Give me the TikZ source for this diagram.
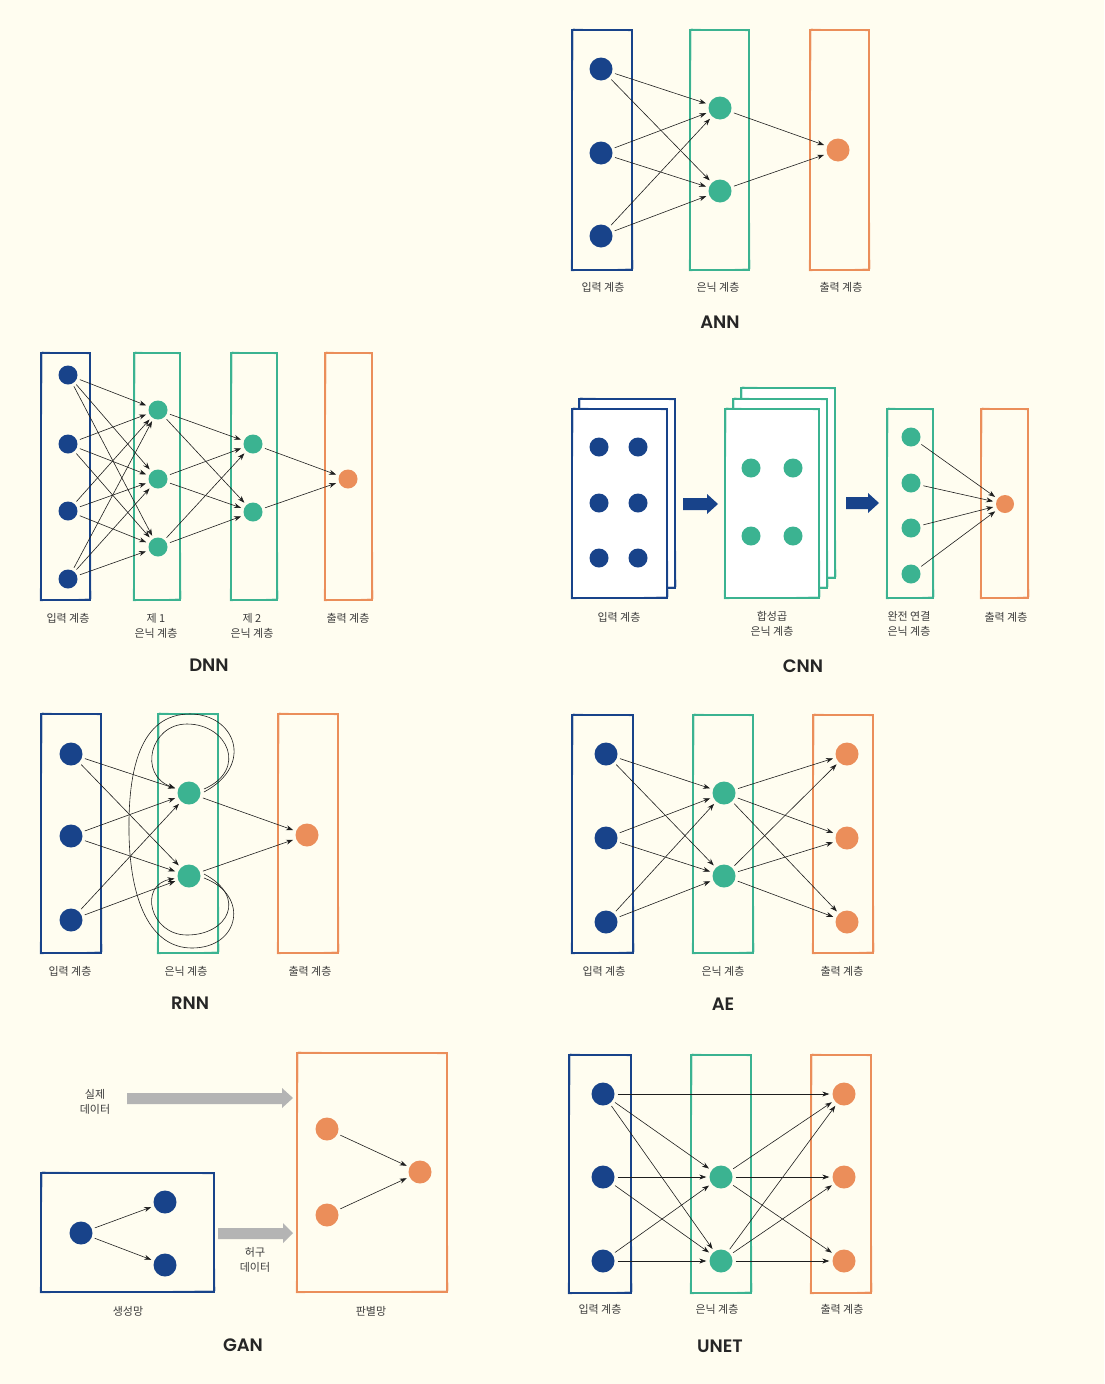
\documentclass[tikz,border=0pt]{standalone}
\usepackage{fontspec}
\newfontfamily\kr{Noto Sans CJK KR}
\newfontfamily\ttl{Poppins}[UprightFont={* SemiBold}]
\usetikzlibrary{arrows.meta}
\definecolor{bgc}{HTML}{FFFDF0}
\definecolor{cblue}{HTML}{18438A}
\definecolor{cgreen}{HTML}{3BB391}
\definecolor{corange}{HTML}{EB8E5A}
\definecolor{labc}{HTML}{3C3C3C}
\definecolor{arrc}{HTML}{1E1E1E}
\definecolor{cgray}{HTML}{B4B4B4}
\newcommand\skbox[6][bgc]{%
  \fill[#1] (#3,#4) rectangle (#5,#6);
  \draw[#2, line width=1.1pt] (#3,#4) rectangle (#5,#6);
  \draw[#2, line width=0.6pt, opacity=0.75] (#3+1.2,#4-1) -- (#5-0.6,#4+0.8) -- (#5+1,#6-1.2) -- (#3-0.8,#6+0.8) -- cycle;
}
\tikzset{
  bn/.style={circle, fill=cblue, inner sep=0pt, minimum size=#1},
  gn/.style={circle, fill=cgreen, inner sep=0pt, minimum size=#1},
  on/.style={circle, fill=corange, inner sep=0pt, minimum size=#1},
  bn/.default=23pt, gn/.default=23pt, on/.default=23pt,
  arr/.style={-{Stealth[length=7pt,width=5pt]}, line width=0.6pt, draw=arrc, shorten >=3pt, shorten <=3pt},
  lab/.style={font=\kr\fontsize{11}{15}\selectfont, text=labc, inner sep=0pt, align=center},
  title/.style={font=\ttl\fontsize{18}{20}\selectfont, text=black!85, inner sep=0pt},
}
\begin{document}
\begin{tikzpicture}[x=1pt,y=-1pt]
\useasboundingbox (0,0) rectangle (1104,1384);
\fill[bgc] (0,0) rectangle (1104,1384);

%%%%%%%% ANN
\skbox{cblue}{572}{30}{632}{270}
\skbox{cgreen}{690}{30}{749}{270}
\skbox{corange}{810}{30}{869}{270}
\node[bn] (ai1) at (601,69) {};
\node[bn] (ai2) at (601,153) {};
\node[bn] (ai3) at (601,236) {};
\node[gn] (ah1) at (720,108) {};
\node[gn] (ah2) at (720,191) {};
\node[on] (ao) at (838,150) {};
\foreach \i in {1,2,3} \foreach \h in {1,2} \draw[arr] (ai\i) -- (ah\h);
\foreach \h in {1,2} \draw[arr] (ah\h) -- (ao);
\node[lab] (annl1) at (603,287) {입력 계층};
\node[lab] (annl2) at (718,287) {은닉 계층};
\node[lab] (annl3) at (841,287) {출력 계층};
\node[title] (annt) at (720,322) {ANN};

%%%%%%%% DNN
\skbox{cblue}{41}{353}{90}{600}
\skbox{cgreen}{134}{353}{180}{600}
\skbox{cgreen}{231}{353}{277}{600}
\skbox{corange}{325}{353}{372}{600}
\node[bn=19pt] (di1) at (68,375) {};
\node[bn=19pt] (di2) at (68,444) {};
\node[bn=19pt] (di3) at (68,511) {};
\node[bn=19pt] (di4) at (68,579) {};
\node[gn=19pt] (dh1) at (158,410) {};
\node[gn=19pt] (dh2) at (158,479) {};
\node[gn=19pt] (dh3) at (158,547) {};
\node[gn=19pt] (dk1) at (253,444) {};
\node[gn=19pt] (dk2) at (253,512) {};
\node[on=19pt] (do) at (348,479) {};
\foreach \i in {1,2,3,4} \foreach \h in {1,2,3} \draw[arr] (di\i) -- (dh\h);
\foreach \h in {1,2,3} \foreach \k in {1,2} \draw[arr] (dh\h) -- (dk\k);
\foreach \k in {1,2} \draw[arr] (dk\k) -- (do);
\node[lab] (dnnl1) at (68,618) {입력 계층};
\node[lab] (dnnl2) at (156,626) {제 1\\은닉 계층};
\node[lab] (dnnl3) at (252,626) {제 2\\은닉 계층};
\node[lab] (dnnl4) at (348,618) {출력 계층};
\node[title] (dnnt) at (209,665) {DNN};

%%%%%%%% CNN
\skbox[white]{cblue}{579}{399}{675}{588}
\skbox[white]{cblue}{572}{409}{667}{598}
\node[bn=19pt] (c1) at (599,447) {};
\node[bn=19pt] (c2) at (638,447) {};
\node[bn=19pt] (c3) at (599,503) {};
\node[bn=19pt] (c4) at (638,503) {};
\node[bn=19pt] (c5) at (599,558) {};
\node[bn=19pt] (c6) at (638,558) {};
\fill[cblue] (683,498) -- (707,498) -- (707,494) -- (718,504) -- (707,514) -- (707,510) -- (683,510) -- cycle;
\skbox[white]{cgreen}{741}{388}{835}{578}
\skbox[white]{cgreen}{733}{399}{827}{588}
\skbox[white]{cgreen}{725}{409}{819}{598}
\node[gn=19pt] (cc1) at (751,468) {};
\node[gn=19pt] (cc2) at (793,468) {};
\node[gn=19pt] (cc3) at (751,536) {};
\node[gn=19pt] (cc4) at (793,536) {};
\fill[cblue] (846,497) -- (868,497) -- (868,493) -- (879,503) -- (868,513) -- (868,509) -- (846,509) -- cycle;
\skbox{cgreen}{887}{409}{933}{598}
\skbox{corange}{981}{409}{1028}{598}
\node[gn=19pt] (cf1) at (911,437) {};
\node[gn=19pt] (cf2) at (911,483) {};
\node[gn=19pt] (cf3) at (911,528) {};
\node[gn=19pt] (cf4) at (911,574) {};
\node[on=18pt] (co) at (1005,504) {};
\foreach \i in {1,2,3,4} \draw[arr] (cf\i) -- (co);
\node[lab] (cnnl1) at (619,617) {입력 계층};
\node[lab] (cnnl2) at (772,624) {합성곱\\은닉 계층};
\node[lab] (cnnl3) at (909,624) {완전 연결\\은닉 계층};
\node[lab] (cnnl4) at (1006,617) {출력 계층};
\node[title] (cnnt) at (803,666) {CNN};

%%%%%%%% RNN
\skbox{cblue}{41}{714}{101}{953}
\skbox{cgreen}{158}{714}{218}{953}
\skbox{corange}{278}{714}{338}{953}
\node[bn] (ri1) at (71,754) {};
\node[bn] (ri2) at (71,836) {};
\node[bn] (ri3) at (71,920) {};
\node[gn] (rh1) at (189,793) {};
\node[gn] (rh2) at (189,876) {};
\node[on] (ro) at (307,835) {};
\foreach \i in {1,2,3} \foreach \h in {1,2} \draw[arr] (ri\i) -- (rh\h);
\foreach \h in {1,2} \draw[arr] (rh\h) -- (ro);
\coordinate (rt1) at (204,789);
\coordinate (rt2) at (204,792);
\coordinate (rb1) at (204,874);
\coordinate (rb2) at (204,878);
\draw[line width=0.6pt, draw=arrc] (rt2) .. controls (255,765) and (235,714) .. (190,714)
  .. controls (140,714) and (128,770) .. (129,833)
  .. controls (130,900) and (150,948) .. (192,948)
  .. controls (240,948) and (250,895) .. (rb2);
\draw[arr, shorten <=0pt] (rt1) .. controls (248,770) and (228,724) .. (187,724)
  .. controls (150,724) and (138,775) .. (rh1);
\draw[arr, shorten <=0pt] (rb1) .. controls (248,897) and (228,935) .. (187,935)
  .. controls (150,935) and (138,885) .. (rh2);
\node[lab] (rnnl1) at (70,971) {입력 계층};
\node[lab] (rnnl2) at (186,971) {은닉 계층};
\node[lab] (rnnl3) at (310,971) {출력 계층};
\node[title] (rnnt) at (190,1003) {RNN};

%%%%%%%% AE
\skbox{cblue}{572}{715}{633}{953}
\skbox{cgreen}{693}{715}{753}{953}
\skbox{corange}{813}{715}{873}{953}
\node[bn] (ei1) at (606,754) {};
\node[bn] (ei2) at (606,838) {};
\node[bn] (ei3) at (606,922) {};
\node[gn] (eh1) at (724,793) {};
\node[gn] (eh2) at (724,876) {};
\node[on] (eo1) at (847,754) {};
\node[on] (eo2) at (847,838) {};
\node[on] (eo3) at (847,922) {};
\foreach \i in {1,2,3} \foreach \h in {1,2} \draw[arr] (ei\i) -- (eh\h);
\foreach \h in {1,2} \foreach \o in {1,2,3} \draw[arr] (eh\h) -- (eo\o);
\node[lab] (ael1) at (604,971) {입력 계층};
\node[lab] (ael2) at (723,971) {은닉 계층};
\node[lab] (ael3) at (842,971) {출력 계층};
\node[title] (aet) at (723,1004) {AE};

%%%%%%%% GAN
\fill[cgray] (127,1093) -- (282,1093) -- (282,1088) -- (293,1098) -- (282,1108) -- (282,1104) -- (127,1104) -- cycle;
\node[lab] (ganl1) at (95,1102) {실제\\데이터};
\skbox{cblue}{41}{1173}{214}{1292}
\node[bn] (g1) at (81,1233) {};
\node[bn] (g2) at (165,1202) {};
\node[bn] (g3) at (165,1265) {};
\draw[arr] (g1) -- (g2);
\draw[arr] (g1) -- (g3);
\fill[cgray] (218,1228) -- (283,1228) -- (283,1223) -- (293,1233) -- (283,1243) -- (283,1239) -- (218,1239) -- cycle;
\node[lab] (ganl2) at (255,1260) {허구\\데이터};
\skbox{corange}{297}{1053}{447}{1292}
\node[on] (gd1) at (327,1129) {};
\node[on] (gd2) at (327,1215) {};
\node[on] (gd3) at (420,1172) {};
\draw[arr] (gd1) -- (gd3);
\draw[arr] (gd2) -- (gd3);
\node[lab] (ganl3) at (128,1311) {생성망};
\node[lab] (ganl4) at (371,1311) {판별망};
\node[title] (gant) at (243,1345) {GAN};

%%%%%%%% UNET
\skbox{cblue}{569}{1055}{631}{1293}
\skbox{cgreen}{691}{1055}{751}{1293}
\skbox{corange}{811}{1055}{871}{1293}
\node[bn] (ui1) at (603,1094) {};
\node[bn] (ui2) at (603,1177) {};
\node[bn] (ui3) at (603,1261) {};
\node[gn] (uh1) at (721,1177) {};
\node[gn] (uh2) at (721,1261) {};
\node[on] (uo1) at (844,1094) {};
\node[on] (uo2) at (844,1177) {};
\node[on] (uo3) at (844,1261) {};
\draw[arr] (ui1) -- (uo1);
\foreach \i in {1,2,3} \foreach \h in {1,2} \draw[arr] (ui\i) -- (uh\h);
\foreach \h in {1,2} \foreach \o in {1,2,3} \draw[arr] (uh\h) -- (uo\o);
\node[lab] (unl1) at (600,1309) {입력 계층};
\node[lab] (unl2) at (717,1309) {은닉 계층};
\node[lab] (unl3) at (842,1309) {출력 계층};
\node[title] (unt) at (720,1346) {UNET};
\end{tikzpicture}
\end{document}
